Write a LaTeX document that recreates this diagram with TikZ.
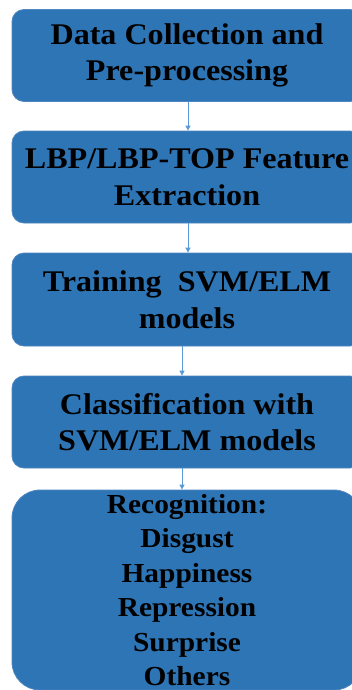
\documentclass[tikz,border=0pt]{standalone}
\usepackage{fontspec}
\setmainfont{Liberation Serif}[FakeStretch=1.07]
\usetikzlibrary{arrows.meta}
\definecolor{boxfill}{HTML}{2E75B6}
\definecolor{boxline}{HTML}{4F86C0}
\definecolor{arrowc}{HTML}{5B9BD5}
\begin{document}
\begin{tikzpicture}[x=1pt,y=-1pt,
  stepbox/.style={draw=boxline, line width=0.8pt, fill=boxfill, rounded corners=12pt,
    minimum width=350pt, inner sep=0pt, align=center, text=black,
    font=\fontsize{30}{36.5}\selectfont\bfseries},
  lastbox/.style={stepbox, rounded corners=28pt, font=\fontsize{27.5}{34.4}\selectfont\bfseries},
  arr/.style={draw=arrowc, line width=1pt, -{Triangle[length=5pt,width=5pt]}}]
\useasboundingbox (0,0) rectangle (351,690);
\node[stepbox, minimum height=92pt] (b1) at (187,55.5) {Data Collection and\\Pre-processing};
\node[stepbox, minimum height=92pt] (b2) at (187,177) {LBP/LBP-TOP Feature\\Extraction};
\node[stepbox, minimum height=93pt] (b3) at (187,299.5) {Training\ \ SVM/ELM\\models};
\node[stepbox, minimum height=92pt] (b4) at (187,422) {Classification with\\SVM/ELM models};
\node[lastbox, minimum height=200pt] (b5) at (187,590) {Recognition:\\Disgust\\Happiness\\Repression\\Surprise\\Others};
\draw[arr] ([xshift=1pt]b1.south) -- ([xshift=1pt]b2.north);
\draw[arr] ([xshift=1pt]b2.south) -- ([xshift=1pt]b3.north);
\draw[arr] ([xshift=-5pt]b3.south) -- ([xshift=-5pt]b4.north);
\draw[arr] ([xshift=-5pt]b4.south) -- ([xshift=-5pt]b5.north);
\end{tikzpicture}
\end{document}
